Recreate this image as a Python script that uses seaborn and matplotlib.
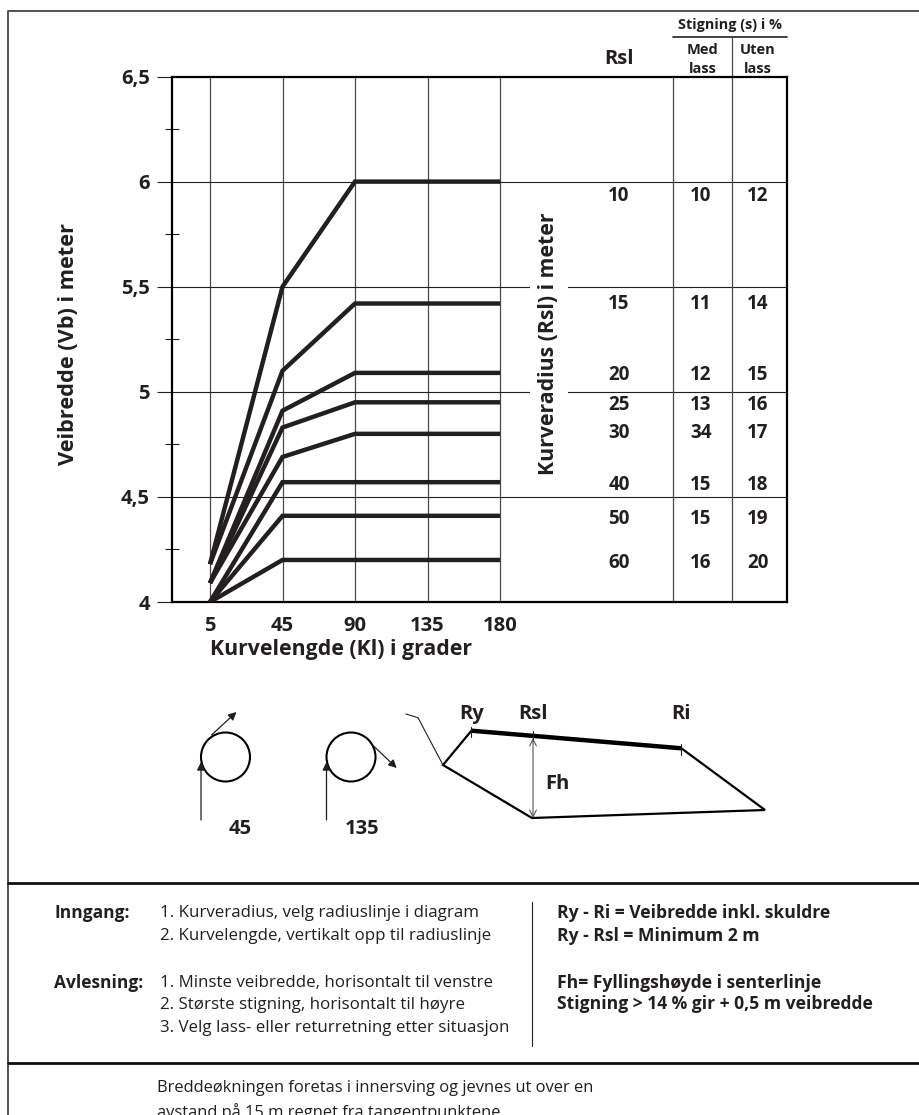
import matplotlib
matplotlib.use('Agg')
import matplotlib.pyplot as plt
import pandas as pd
import seaborn as sns
from matplotlib.patches import Ellipse, Polygon

W, H = 919, 1115

kl_labels = ['5', '45', '90', '135', '180']
kl_pos = [0, 1, 2, 3, 4]
rsl_values = [10, 15, 20, 25, 30, 40, 50, 60]
vb_10 = [4.18, 5.50, 6.00, 6.00, 6.00]
vb_15 = [4.18, 5.10, 5.42, 5.42, 5.42]
vb_20 = [4.09, 4.91, 5.09, 5.09, 5.09]
vb_25 = [4.09, 4.83, 4.95, 4.95, 4.95]
vb_30 = [4.09, 4.69, 4.80, 4.80, 4.80]
vb_40 = [4.00, 4.57, 4.57, 4.57, 4.57]
vb_50 = [4.00, 4.41, 4.41, 4.41, 4.41]
vb_60 = [4.00, 4.20, 4.20, 4.20, 4.20]
all_vb = [vb_10, vb_15, vb_20, vb_25, vb_30, vb_40, vb_50, vb_60]

med_lass = [10, 11, 12, 13, 34, 15, 15, 16]
uten_lass = [12, 14, 15, 16, 17, 18, 19, 20]
row_vb = [5.93, 5.42, 5.08, 4.935, 4.805, 4.555, 4.395, 4.185]

y_major = [4, 4.5, 5, 5.5, 6, 6.5]
y_major_labels = ['4', '4,5', '5', '5,5', '6', '6,5']
y_minor = [4.25, 4.75, 5.25, 5.75, 6.25]

inngang = ['1. Kurveradius, velg radiuslinje i diagram',
           '2. Kurvelengde, vertikalt opp til radiuslinje']
avlesning = ['1. Minste veibredde, horisontalt til venstre',
             '2. Største stigning, horisontalt til høyre',
             '3. Velg lass- eller returretning etter situasjon']
notes_1 = ['Ry - Ri = Veibredde inkl. skuldre', 'Ry - Rsl = Minimum 2 m']
notes_2 = ['Fh= Fyllingshøyde i senterlinje', 'Stigning > 14 % gir + 0,5 m veibredde']
footer = ['Breddeøkningen foretas i innersving og jevnes ut over en',
          'avstand på 15 m regnet fra tangentpunktene']

sns.set_theme(style='white')
plt.rcParams['font.family'] = ['Open Sans', 'DejaVu Sans']
INK = '#231f20'
GRID = '#4a4a4a'

rows = []
for rsl, vb in zip(rsl_values, all_vb):
    for x, v in zip(kl_pos, vb):
        rows.append({'rsl': rsl, 'kl': x, 'vb': v})
df = pd.DataFrame(rows)

fig = plt.figure(figsize=(W / 100, H / 100), dpi=100)

# page overlay in pixel coordinates, for frame, sketch and notes
page = fig.add_axes([0, 0, 1, 1])
page.set_xlim(0, W)
page.set_ylim(H, 0)
page.axis('off')

left, right, top, bottom = 172, 787, 76.5, 602
ax = fig.add_axes([left / W, 1 - bottom / H, (right - left) / W, (bottom - top) / H])
ax.patch.set_alpha(0)

x0 = 210
dx = 72.5
ax.set_xlim((left - x0) / dx, (right - x0) / dx)
ax.set_ylim(4, 6.5)

ax.set_yticks(y_major)
ax.set_yticklabels(y_major_labels)
ax.set_yticks(y_minor, minor=True)
ax.set_xticks(kl_pos)
ax.set_xticklabels(kl_labels)
ax.tick_params(axis='y', which='major', length=11, width=0.8, color=INK, pad=5,
               labelsize=14.5, labelcolor=INK, left=True)
ax.tick_params(axis='y', which='minor', direction='inout', length=10, width=0.8, color=INK, left=True)
ax.tick_params(axis='x', which='major', length=0, pad=10, labelsize=14.5, labelcolor=INK)
for lab in ax.get_yticklabels() + ax.get_xticklabels():
    lab.set_fontweight('bold')

for x in kl_pos:
    ax.axvline(x, color=GRID, lw=0.9, zorder=1)
for y in y_major[1:-1]:
    ax.axhline(y, color=INK, lw=0.8, zorder=1)

col_med = (673 - x0) / dx
col_uten = (731.5 - x0) / dx
ax.axvline(col_med, color=GRID, lw=0.9, zorder=1)
ax.axvline(col_uten, color=GRID, lw=0.9, zorder=1)

sns.lineplot(data=df, x='kl', y='vb', units='rsl', estimator=None, color=INK,
             lw=3.2, ax=ax, zorder=3, solid_capstyle='butt', solid_joinstyle='miter')
ax.set_xlabel('')
ax.set_ylabel('')

for sp in ax.spines.values():
    sp.set_visible(True)
    sp.set_color('black')
    sp.set_linewidth(1.6)

# table rows, positioned on the same y scale as the curves
for rsl, med, uten, vb in zip(rsl_values, med_lass, uten_lass, row_vb):
    for px, val in ((619, rsl), (701, med), (758, uten)):
        ax.text((px - x0) / dx, vb, str(val), ha='center', va='center',
                fontsize=13.5, fontweight='bold', color=INK)

ax.text((549 - x0) / dx, 5.23, 'Kurveradius (Rsl) i meter', rotation=90, ha='center', va='center',
        fontsize=15.3, fontweight='bold', color=INK, zorder=2,
        bbox=dict(facecolor='white', edgecolor='none', pad=6))

page.text(69, 344, 'Veibredde (Vb) i meter', rotation=90, ha='center', va='center',
          fontsize=15.7, fontweight='bold', color=INK)
page.text(341, 650, 'Kurvelengde (Kl) i grader', ha='center', va='center',
          fontsize=15.3, fontweight='bold', color=INK)

# table header
page.text(619, 59, 'Rsl', ha='center', va='center', fontsize=14.5, fontweight='bold', color=INK)
page.text(730, 25, 'Stigning (s) i %', ha='center', va='center', fontsize=10.4, fontweight='bold', color=INK)
page.plot([673, 787], [37, 37], color=INK, lw=1.2)
page.plot([731.5, 731.5], [37, 78], color=GRID, lw=0.9)
page.text(703, 50, 'Med', ha='center', va='center', fontsize=10.5, fontweight='bold', color=INK)
page.text(703, 69, 'lass', ha='center', va='center', fontsize=10.5, fontweight='bold', color=INK)
page.text(758, 50, 'Uten', ha='center', va='center', fontsize=10.5, fontweight='bold', color=INK)
page.text(758, 69, 'lass', ha='center', va='center', fontsize=10.5, fontweight='bold', color=INK)

# page frame
page.plot([W, 8, 8], [11, 11, H], color='#444444', lw=1.3)
page.plot([8, W], [883, 883], color='#111111', lw=2)
page.plot([8, W], [1062.5, 1062.5], color='#111111', lw=2)
page.plot([532, 532], [902, 1046], color=INK, lw=0.8)

# turning circles
for cx, label, lx, start, end in ((225.5, '45', 240, (211.5, 735), (236.5, 712)),
                                  (351, '135', 362, (372.5, 745), (396.7, 768))):
    page.add_patch(Ellipse((cx, 757), 49, 49, fill=False, ec='black', lw=1.5))
    page.annotate('', xy=(cx - 24.5, 762), xytext=(cx - 24.5, 820),
                  arrowprops=dict(arrowstyle='-|>', color=INK, lw=0.9, shrinkA=0, shrinkB=0))
    page.annotate('', xy=end, xytext=start,
                  arrowprops=dict(arrowstyle='-|>', color=INK, lw=0.9, shrinkA=0, shrinkB=0))
    page.text(lx, 829, label, ha='center', va='center', fontsize=14.5, fontweight='bold', color=INK)

# road cross section
page.add_patch(Polygon([(443, 765), (471.4, 730.7), (681.4, 748.3), (765, 810), (532, 818)],
                       closed=True, fill=False, ec='black', lw=1.6))
page.plot([471.4, 681.4], [730.7, 748.3], color='black', lw=3.2, solid_capstyle='butt')
page.plot([405.8, 418, 443], [714, 717.7, 765], color=INK, lw=0.8)
page.plot([471.4, 471.4], [727, 737], color=INK, lw=0.8)
page.plot([533, 533], [731, 741], color=INK, lw=0.8)
page.plot([681.4, 681.4], [744, 755], color=INK, lw=0.8)
page.annotate('', xy=(533, 738), xytext=(533, 818),
              arrowprops=dict(arrowstyle='<->', color='#555555', lw=0.8, shrinkA=0, shrinkB=0))
for txt, px, py in (('Ry', 472, 714), ('Rsl', 533, 714), ('Ri', 680.5, 714), ('Fh', 557.5, 784)):
    page.text(px, py, txt, ha='center', va='center', fontsize=14.5, fontweight='bold', color=INK)

# notes
page.text(54, 913, 'Inngang:', va='center', fontsize=12.5, fontweight='bold', color=INK)
page.text(54, 983, 'Avlesning:', va='center', fontsize=12.5, fontweight='bold', color=INK)
for txt, py in zip(inngang, (913, 936)):
    page.text(159.5, py, txt, va='center', fontsize=12.2, color=INK)
for txt, py in zip(avlesning, (983, 1005, 1028)):
    page.text(159.5, py, txt, va='center', fontsize=12.2, color=INK)
for txt, py in zip(notes_1, (913, 936)):
    page.text(557, py, txt, va='center', fontsize=12.6, fontweight='bold', color=INK)
for txt, py in zip(notes_2, (983, 1004)):
    page.text(557, py, txt, va='center', fontsize=12.6, fontweight='bold', color=INK)
for txt, py in zip(footer, (1088, 1112)):
    page.text(157, py, txt, va='center', fontsize=11.9, color=INK)

fig.savefig('out.png', dpi=100)
